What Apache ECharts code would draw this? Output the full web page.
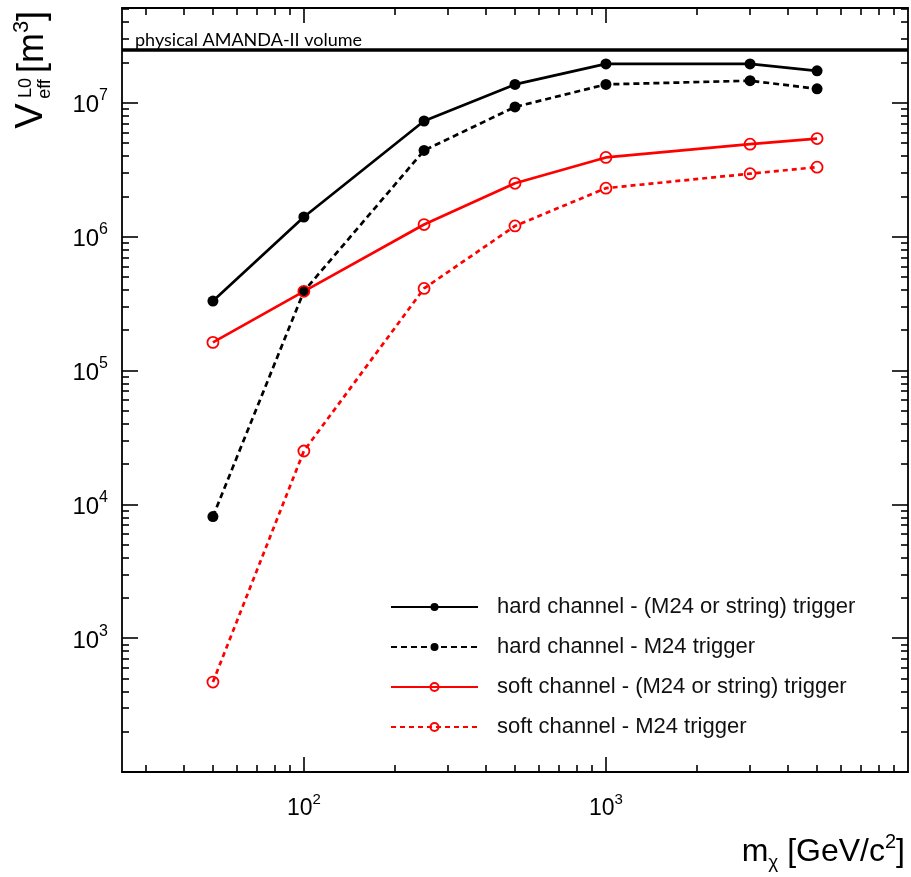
<!DOCTYPE html>
<html>
<head>
<meta charset="utf-8">
<script src="https://cdn.jsdelivr.net/npm/echarts@6/dist/echarts.min.js"></script>
<style>
  html, body { margin: 0; padding: 0; background: #fff; }
  #chart { width: 911px; height: 877px; }
</style>
</head>
<body>
<div id="chart"></div>
<script>
// Neutralino mass points [GeV/c^2]
const massGeV = [50, 100, 250, 500, 1000, 3000, 5000];

// Effective volume at trigger level L0 [m^3]
const hardOrString = [3.3e5, 1.4e6, 7.3e6, 1.37e7, 1.95e7, 1.95e7, 1.73e7];
const hardM24      = [8.1e3, 3.9e5, 4.4e6, 9.3e6, 1.37e7, 1.46e7, 1.27e7];
const softOrString = [1.62e5, 3.9e5, 1.23e6, 2.5e6, 3.9e6, 4.9e6, 5.4e6];
const softM24      = [470, 2.5e4, 4.1e5, 1.2e6, 2.3e6, 2.95e6, 3.3e6];

// Geometric volume of the detector
const amandaVolume = 2.5e7;

const seriesNames = [
  'hard channel - (M24 or string) trigger',
  'hard channel - M24 trigger',
  'soft channel - (M24 or string) trigger',
  'soft channel - M24 trigger'
];

// Axis ranges and tick positions
const xRange = [25, 10000];
const yRange = [100, 5.1e7];
const xMajorTicks = [100, 1000];
const xMinorTicks = [30, 40, 50, 60, 70, 80, 90,
                     200, 300, 400, 500, 600, 700, 800, 900,
                     2000, 3000, 4000, 5000, 6000, 7000, 8000, 9000];
const yMajorTicks = [1e3, 1e4, 1e5, 1e6, 1e7];
const yMinorTicks = [200, 300, 400, 500, 600, 700, 800, 900,
                     2e3, 3e3, 4e3, 5e3, 6e3, 7e3, 8e3, 9e3,
                     2e4, 3e4, 4e4, 5e4, 6e4, 7e4, 8e4, 9e4,
                     2e5, 3e5, 4e5, 5e5, 6e5, 7e5, 8e5, 9e5,
                     2e6, 3e6, 4e6, 5e6, 6e6, 7e6, 8e6, 9e6,
                     2e7, 3e7, 4e7, 5e7];

function pairs(xs, ys) {
  return xs.map((x, i) => [x, ys[i]]);
}

const powLabel = (v) => '{b|10}{s|' + Math.round(Math.log10(v)) + '}';

function makeAxis(range, position, ticks, tickLen, withLabel, showLine, labelCfg) {
  return {
    type: 'log',
    logBase: 10,
    min: range[0],
    max: range[1],
    position: position,
    splitLine: { show: false },
    axisLine: { show: showLine, onZero: false, lineStyle: { color: '#000', width: 1.8 } },
    axisTick: {
      show: true, inside: true, length: tickLen,
      customValues: ticks,
      lineStyle: { color: '#000', width: 1.6 }
    },
    axisLabel: withLabel
      ? Object.assign({ show: true, customValues: ticks, formatter: powLabel }, labelCfg)
      : { show: false }
  };
}

const xLabelCfg = {
  margin: 20,
  color: '#000',
  rich: {
    b: { fontFamily: 'Liberation Sans', fontSize: 23, lineHeight: 28, color: '#000', verticalAlign: 'bottom' },
    s: { fontFamily: 'Liberation Sans', fontSize: 15, lineHeight: 15, color: '#000', verticalAlign: 'top' }
  }
};
const yLabelCfg = {
  margin: 14,
  color: '#000',
  rich: {
    b: { fontFamily: 'Liberation Sans', fontSize: 24, lineHeight: 30, color: '#000', verticalAlign: 'bottom' },
    s: { fontFamily: 'Liberation Sans', fontSize: 16, lineHeight: 16, color: '#000', verticalAlign: 'top' }
  }
};

const chart = echarts.init(document.getElementById('chart'), null, { renderer: 'canvas' });

const lineW = 2.7;

chart.setOption({
  backgroundColor: '#fff',
  animation: false,
  grid: { left: 122, right: 3, top: 8, bottom: 105, containLabel: false },
  xAxis: [
    makeAxis(xRange, 'bottom', xMajorTicks, 15, true, true, xLabelCfg),
    makeAxis(xRange, 'bottom', xMinorTicks, 7, false, false),
    makeAxis(xRange, 'top', xMajorTicks, 15, false, true),
    makeAxis(xRange, 'top', xMinorTicks, 7, false, false)
  ],
  yAxis: [
    makeAxis(yRange, 'left', yMajorTicks, 16, true, true, yLabelCfg),
    makeAxis(yRange, 'left', yMinorTicks, 7, false, false),
    makeAxis(yRange, 'right', yMajorTicks, 16, false, true),
    makeAxis(yRange, 'right', yMinorTicks, 7, false, false)
  ],
  legend: {
    data: seriesNames,
    orient: 'vertical',
    left: 390,
    top: 595,
    padding: 0,
    itemWidth: 87,
    itemHeight: 10,
    itemGap: 16,
    textStyle: {
      fontFamily: 'Liberation Sans',
      fontSize: 22,
      lineHeight: 24,
      color: '#111',
      padding: [0, 0, 0, 14]
    }
  },
  graphic: [
    {
      type: 'text', x: 32, y: 116, rotation: Math.PI / 2,
      style: { text: 'V', font: '38px "Liberation Sans"', fill: '#000', align: 'center', verticalAlign: 'middle' }
    },
    {
      type: 'text', x: 45, y: 89, rotation: Math.PI / 2,
      style: { text: 'eff', font: '18px "Liberation Sans"', fill: '#000', align: 'center', verticalAlign: 'middle' }
    },
    {
      type: 'text', x: 26, y: 88, rotation: Math.PI / 2,
      style: { text: 'L0', font: '18px "Liberation Sans"', fill: '#000', align: 'center', verticalAlign: 'middle' }
    },
    {
      type: 'text', x: 31, y: 42, rotation: Math.PI / 2,
      style: {
        text: '{a|[m}{s|3}{a|]}',
        align: 'center', verticalAlign: 'middle',
        rich: {
          a: { fontFamily: 'Liberation Sans', fontSize: 36, lineHeight: 40, fill: '#000', verticalAlign: 'bottom' },
          s: { fontFamily: 'Liberation Sans', fontSize: 22, lineHeight: 22, fill: '#000', verticalAlign: 'top' }
        }
      }
    },
    {
      type: 'text', right: 6, top: 832,
      style: {
        text: '{a|m}{u|χ}{a| [GeV/c}{s|2}{a|]}',
        rich: {
          a: { fontFamily: 'Liberation Sans', fontSize: 32, lineHeight: 40, fill: '#000', verticalAlign: 'middle' },
          u: { fontFamily: 'Liberation Sans', fontSize: 19, lineHeight: 15, fill: '#000', verticalAlign: 'bottom' },
          s: { fontFamily: 'Liberation Sans', fontSize: 20, lineHeight: 20, fill: '#000', verticalAlign: 'top' }
        }
      }
    }
  ],
  series: [
    {
      name: 'AMANDA-II volume',
      type: 'line',
      data: [],
      xAxisIndex: 0, yAxisIndex: 0,
      markLine: {
        silent: true,
        symbol: 'none',
        lineStyle: { color: '#000', width: 3.5, type: 'solid' },
        label: {
          show: true,
          position: 'insideStartTop',
          distance: [13, 0],
          formatter: 'physical AMANDA-II volume',
          fontFamily: 'Lato',
          fontSize: 18,
          color: '#000'
        },
        data: [{ yAxis: amandaVolume }]
      }
    },
    {
      name: seriesNames[0],
      type: 'line',
      data: pairs(massGeV, hardOrString),
      symbol: 'circle', symbolSize: 11,
      itemStyle: { color: '#000' },
      lineStyle: { color: '#000', width: lineW, type: 'solid' }
    },
    {
      name: seriesNames[1],
      type: 'line',
      data: pairs(massGeV, hardM24),
      symbol: 'circle', symbolSize: 11,
      itemStyle: { color: '#000' },
      lineStyle: { color: '#000', width: lineW, type: [6, 4] }
    },
    {
      name: seriesNames[2],
      type: 'line',
      data: pairs(massGeV, softOrString),
      symbol: 'circle', symbolSize: 11,
      itemStyle: { color: 'rgba(0,0,0,0)', borderColor: '#ff0000', borderWidth: 1.8 },
      lineStyle: { color: '#ff0000', width: lineW, type: 'solid' }
    },
    {
      name: seriesNames[3],
      type: 'line',
      data: pairs(massGeV, softM24),
      symbol: 'circle', symbolSize: 11,
      itemStyle: { color: 'rgba(0,0,0,0)', borderColor: '#ff0000', borderWidth: 1.8 },
      lineStyle: { color: '#ff0000', width: lineW, type: [5, 4] }
    }
  ]
});
</script>
</body>
</html>
